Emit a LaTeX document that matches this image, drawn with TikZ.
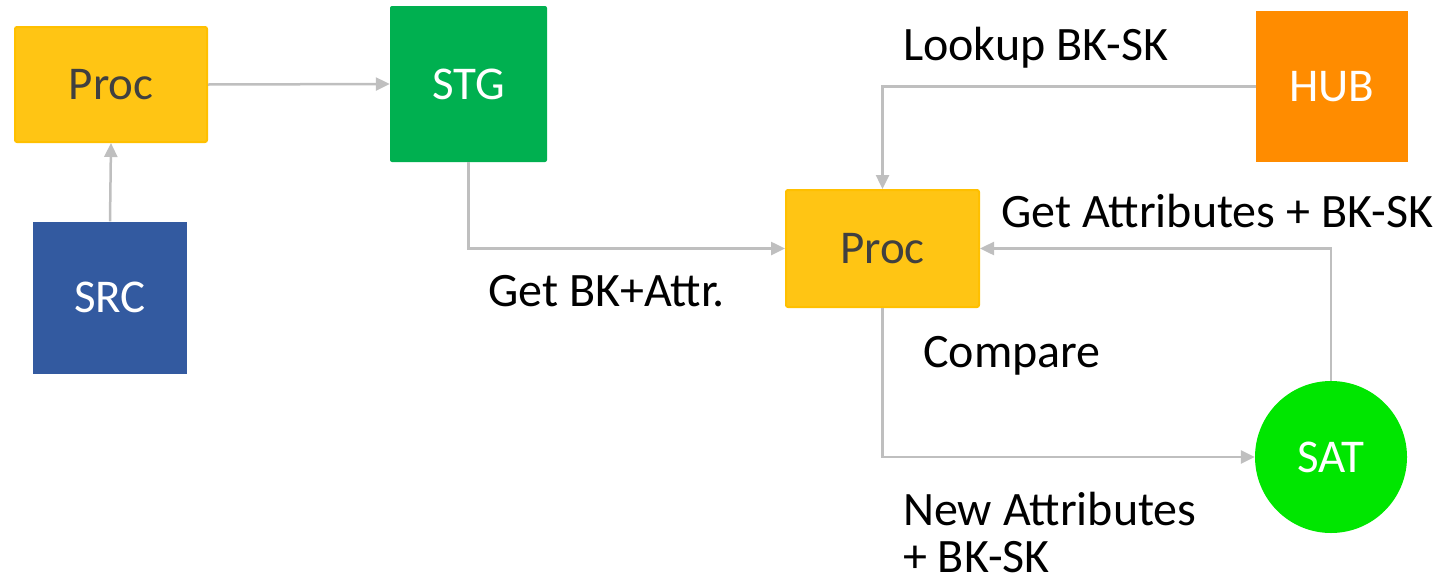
\documentclass[tikz,border=0pt]{standalone}
\usepackage{fontspec}
\setmainfont{Carlito}
\usetikzlibrary{arrows.meta}
\definecolor{procfill}{HTML}{FFC514}
\definecolor{procline}{HTML}{FFC000}
\definecolor{srcblue}{HTML}{335AA0}
\definecolor{stggreen}{HTML}{00B050}
\definecolor{huborange}{HTML}{FF8C00}
\definecolor{satgreen}{HTML}{00E600}
\definecolor{conn}{HTML}{BFBFBF}
\definecolor{proctext}{HTML}{404040}
\tikzset{
  x=1pt, y=-1pt,
  every node/.style={font=\fontsize{47}{56}\selectfont, inner sep=0pt},
  procbox/.style={draw=procline, line width=2pt, fill=procfill, text=proctext, rounded corners=2pt, minimum width=192pt, minimum height=115pt},
  plainbox/.style={text=white, minimum width=154pt, minimum height=152pt},
  satnode/.style={circle, fill=satgreen, text=white, minimum size=152pt},
  link/.style={draw=conn, line width=2.5pt, -{Triangle[length=14pt,width=13pt]}},
  lbl/.style={anchor=base west, text=black, font=\fontsize{48}{56}\selectfont}
}
\begin{document}
\begin{tikzpicture}
\useasboundingbox (0,0) rectangle (1442,584);
\node[procbox] (proca) at (111,84.5) {Proc};
\node[plainbox, fill=srcblue, minimum width=154pt, minimum height=152pt] (src) at (110,297.5) {SRC};
\node[plainbox, fill=stggreen, rounded corners=2pt, minimum width=157pt, minimum height=156pt] (stg) at (468.5,84) {STG};
\node[plainbox, fill=huborange, minimum width=152pt, minimum height=151pt] (hub) at (1332,86.5) {HUB};
\node[procbox, minimum width=193pt, minimum height=117pt] (procb) at (882.5,248.5) {Proc};
\node[satnode] (sat) at (1331,457) {SAT};

\draw[link] (src.north) -- (proca.south);
\draw[link] (proca.east) -- (stg.west);
\draw[link] (stg.south) |- (procb.west);
\draw[link] (hub.west) -| (procb.north);
\draw[link] (sat.north) |- (procb.east);
\draw[link] (procb.south) |- (sat.west);

\node[lbl] (l1) at (903,60) {Lookup BK-SK};
\node[lbl] (l2) at (1001,227) {Get Attributes + BK-SK};
\node[lbl] (l3) at (488,306) {Get BK+Attr.};
\node[lbl] (l4) at (923,367) {Compare};
\node[lbl] (l5) at (903,525) {New Attributes};
\node[lbl] (l6) at (903,572) {+ BK-SK};
\end{tikzpicture}
\end{document}
